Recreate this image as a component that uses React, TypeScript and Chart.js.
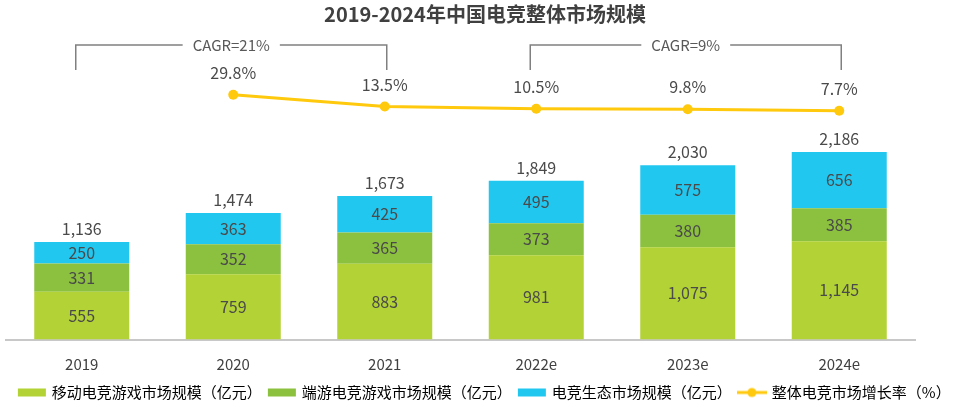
import React, { useEffect, useRef } from 'react';
import { Chart, registerables } from 'chart.js';

Chart.register(...registerables);

const FONT = '"Noto Sans CJK SC", "Noto Sans", sans-serif';

const years = ['2019', '2020', '2021', '2022e', '2023e', '2024e'];
const mobileEsports = [555, 759, 883, 981, 1075, 1145];
const pcEsports = [331, 352, 365, 373, 380, 385];
const ecosystem = [250, 363, 425, 495, 575, 656];
const growthRate = [null, 29.8, 13.5, 10.5, 9.8, 7.7];
const cagrSpans = [
  { from: 0, to: 2, label: 'CAGR=21%' },
  { from: 3, to: 5, label: 'CAGR=9%' },
];

const seriesNames = [
  '移动电竞游戏市场规模（亿元）',
  '端游电竞游戏市场规模（亿元）',
  '电竞生态市场规模（亿元）',
  '整体电竞市场增长率（%）',
];
const colors = ['#B2D235', '#8CC13F', '#22C7F0', '#FFC90E'];

const totals = years.map((_, i) => mobileEsports[i] + pcEsports[i] + ecosystem[i]);
const fmt = (v: number) => v.toLocaleString('en-US');

// legend swatches, drawn once as small canvases
function swatch(kind: 'box' | 'line', color: string) {
  const c = document.createElement('canvas');
  c.width = 30;
  c.height = 12;
  const g = c.getContext('2d')!;
  if (kind === 'box') {
    g.fillStyle = color;
    g.fillRect(1, 2, 28, 8);
  } else {
    g.strokeStyle = color;
    g.lineWidth = 3;
    g.beginPath();
    g.moveTo(0, 6);
    g.lineTo(30, 6);
    g.stroke();
    g.fillStyle = color;
    g.beginPath();
    g.arc(15, 6, 4.5, 0, Math.PI * 2);
    g.fill();
  }
  return c;
}

const valueLabels = {
  id: 'valueLabels',
  afterDatasetsDraw(chart: any) {
    const { ctx } = chart;
    ctx.save();
    ctx.font = `16px ${FONT}`;
    ctx.textAlign = 'center';
    ctx.textBaseline = 'middle';
    ctx.fillStyle = '#4a4a4a';
    [0, 1, 2].forEach((di) => {
      chart.getDatasetMeta(di).data.forEach((bar: any, i: number) => {
        const v = chart.data.datasets[di].data[i];
        ctx.fillText(fmt(v), bar.x, (bar.y + bar.base) / 2);
      });
    });
    chart.getDatasetMeta(2).data.forEach((bar: any, i: number) => {
      ctx.fillText(fmt(totals[i]), bar.x, bar.y - 13);
    });
    chart.getDatasetMeta(3).data.forEach((pt: any, i: number) => {
      const v = growthRate[i];
      if (v == null) return;
      ctx.fillText(v.toFixed(1) + '%', pt.x, pt.y - 22);
    });
    ctx.restore();
  },
};

const cagrBrackets = {
  id: 'cagrBrackets',
  afterDraw(chart: any) {
    const { ctx, chartArea } = chart;
    const x = chart.scales.x;
    const top = chartArea.top + 5;
    const bottom = top + 25;
    ctx.save();
    ctx.font = `15px ${FONT}`;
    ctx.textAlign = 'center';
    ctx.textBaseline = 'middle';
    cagrSpans.forEach((s) => {
      const x1 = x.getPixelForValue(s.from) - 6;
      const x2 = x.getPixelForValue(s.to) + 2;
      const mid = (x1 + x2) / 2;
      const half = ctx.measureText(s.label).width / 2 + 10;
      ctx.strokeStyle = '#808080';
      ctx.lineWidth = 1.5;
      ctx.beginPath();
      ctx.moveTo(x1, bottom);
      ctx.lineTo(x1, top);
      ctx.lineTo(mid - half, top);
      ctx.moveTo(mid + half, top);
      ctx.lineTo(x2, top);
      ctx.lineTo(x2, bottom);
      ctx.stroke();
      ctx.fillStyle = '#595959';
      ctx.fillText(s.label, mid, top);
    });
    ctx.restore();
  },
};

export default function App() {
  const canvasRef = useRef<HTMLCanvasElement>(null);
  const chartRef = useRef<Chart | null>(null);

  useEffect(() => {
    if (!canvasRef.current) return;
    const swatches = [
      swatch('box', colors[0]),
      swatch('box', colors[1]),
      swatch('box', colors[2]),
      swatch('line', colors[3]),
    ];

    chartRef.current = new Chart(canvasRef.current, {
      type: 'bar',
      data: {
        labels: years,
        datasets: [
          { label: seriesNames[0], data: mobileEsports, backgroundColor: colors[0], yAxisID: 'y' },
          { label: seriesNames[1], data: pcEsports, backgroundColor: colors[1], yAxisID: 'y' },
          { label: seriesNames[2], data: ecosystem, backgroundColor: colors[2], yAxisID: 'y' },
          {
            type: 'line',
            label: seriesNames[3],
            data: growthRate,
            yAxisID: 'y1',
            borderColor: colors[3],
            backgroundColor: colors[3],
            borderWidth: 3,
            pointRadius: 5,
            pointBorderWidth: 0,
            pointBackgroundColor: colors[3],
          } as any,
        ],
      },
      options: {
        animation: false,
        responsive: true,
        maintainAspectRatio: false,
        datasets: { bar: { categoryPercentage: 1, barPercentage: 0.627, borderWidth: 0 } },
        layout: { padding: { left: 6, right: -4, top: 0, bottom: -3 } },
        plugins: {
          title: {
            display: true,
            text: '2019-2024年中国电竞整体市场规模',
            color: '#404040',
            font: { family: FONT, size: 20, weight: 'bold' },
            padding: { top: 2, bottom: 14 },
          },
          legend: {
            position: 'bottom',
            labels: {
              usePointStyle: true,
              pointStyleWidth: 25,
              boxHeight: 12,
              padding: 7.5,
              color: '#404040',
              font: { family: FONT, size: 15 },
              generateLabels: () =>
                seriesNames.map((text, i) => ({
                  text,
                  datasetIndex: i,
                  pointStyle: swatches[i],
                  fillStyle: colors[i],
                  strokeStyle: colors[i],
                  lineWidth: 0,
                  hidden: false,
                })),
            },
          },
          tooltip: { enabled: false },
        },
        scales: {
          x: {
            stacked: true,
            grid: { display: false, drawTicks: false },
            border: { color: '#c8c8c8', width: 2 },
            ticks: { color: '#404040', font: { family: FONT, size: 15 }, padding: 16 },
            afterFit: (s: any) => {
              s.height = 38;
            },
          },
          y: {
            stacked: true,
            min: 0,
            max: 3490,
            grid: { display: false, drawTicks: false },
            border: { display: false },
            ticks: { display: false },
            afterFit: (s: any) => {
              s.width = 0;
            },
          },
          y1: {
            position: 'right',
            min: -308.6,
            max: 105.5,
            grid: { display: false, drawTicks: false },
            border: { display: false },
            ticks: { display: false },
            afterFit: (s: any) => {
              s.width = 49;
            },
          },
        },
      },
      plugins: [valueLabels, cagrBrackets],
    });

    return () => {
      chartRef.current?.destroy();
      chartRef.current = null;
    };
  }, []);

  return (
    <div style={{ position: 'fixed', left: 0, top: 0, width: 960, height: 407, background: '#fff' }}>
      <canvas ref={canvasRef}></canvas>
    </div>
  );
}
